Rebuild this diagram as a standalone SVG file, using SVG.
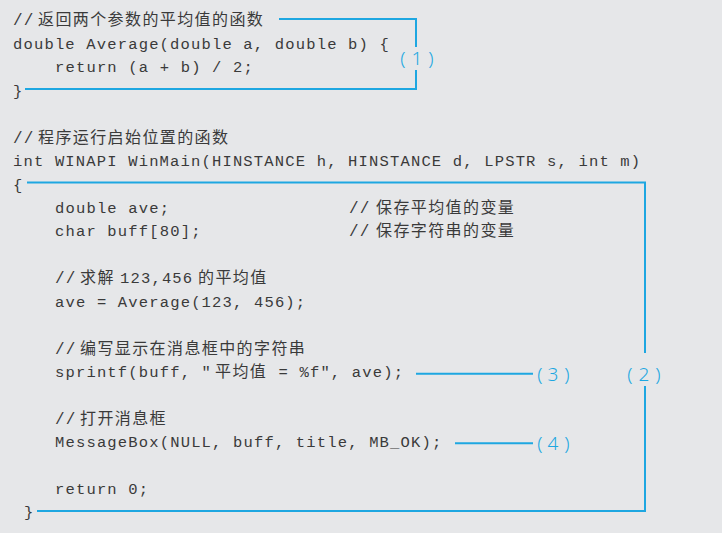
<svg xmlns="http://www.w3.org/2000/svg" width="722" height="533" viewBox="0 0 722 533">
<style>
.m{font-family:"Liberation Mono","DejaVu Sans Mono",monospace;font-size:15.5px;letter-spacing:1.17px;fill:#3a3a3a}
.c{font-family:"Noto Sans CJK SC","Noto Sans",sans-serif;font-size:16px;letter-spacing:1.4px;fill:#3a3a3a}
.s{font-family:"Liberation Mono","DejaVu Sans Mono",monospace;font-size:16px;letter-spacing:1.2px;fill:#3a3a3a}
.l{font-family:"Noto Sans","Liberation Sans",sans-serif;font-size:19px;font-weight:300;fill:#1ea7e1;text-anchor:middle}
.k{fill:none;stroke:#1ea7e1;stroke-width:2}
</style>
<rect width="722" height="533" fill="#e6e7e9"/>
<g id="code">
<text class="s" x="13" y="25">//</text><text class="c" x="38" y="25">返回两个参数的平均值的函数</text>
<text class="m" x="13" y="48.5">double Average(double a, double b) {</text>
<text class="m" x="55" y="72">return (a + b) / 2;</text>
<text class="m" x="13" y="95.5">}</text>
<text class="s" x="13" y="142.5">//</text><text class="c" x="38" y="142.5">程序运行启始位置的函数</text>
<text class="m" x="13" y="166">int WINAPI WinMain(HINSTANCE h, HINSTANCE d, LPSTR s, int m)</text>
<text class="m" x="13" y="189.5">{</text>
<text class="m" x="55" y="213">double ave;</text>
<text class="s" x="349" y="213">//</text><text class="c" x="376" y="213">保存平均值的变量</text>
<text class="m" x="55" y="236">char buff[80];</text>
<text class="s" x="349" y="236">//</text><text class="c" x="376" y="236">保存字符串的变量</text>
<text class="s" x="55" y="283">//</text><text class="c" x="80" y="283">求解</text><text class="m" x="120" y="283">123,456</text><text class="c" x="198" y="283">的平均值</text>
<text class="m" x="55" y="306.5">ave = Average(123, 456);</text>
<text class="s" x="55" y="353.5">//</text><text class="c" x="80" y="353.5">编写显示在消息框中的字符串</text>
<text class="m" x="55" y="377">sprintf(buff, "</text><text class="c" x="215" y="377">平均值</text><text class="m" x="278.5" y="377">= %f", ave);</text>
<text class="s" x="55" y="424">//</text><text class="c" x="80" y="424">打开消息框</text>
<text class="m" x="55" y="447">MessageBox(NULL, buff, title, MB_OK);</text>
<text class="m" x="55" y="494">return 0;</text>
<text class="m" x="24" y="517">}</text>
</g>
<g id="connectors">
<path class="k" d="M279,19H416V47M416,70V89H25"/>
<path class="k" d="M27,182.5H645V353M645,386V511H37"/>
<path class="k" d="M416,373.7H533"/>
<path class="k" d="M455,443.3H533"/>
</g>
<g id="label1"><text class="l" x="403" y="65">(</text><text class="l" x="417" y="65">1</text><text class="l" x="431" y="65">)</text></g>
<g id="label2"><text class="l" x="630" y="380.5">(</text><text class="l" x="644" y="380.5">2</text><text class="l" x="658" y="380.5">)</text></g>
<g id="label3"><text class="l" x="540" y="380.5">(</text><text class="l" x="553" y="380.5">3</text><text class="l" x="567" y="380.5">)</text></g>
<g id="label4"><text class="l" x="540" y="450">(</text><text class="l" x="553" y="450">4</text><text class="l" x="567" y="450">)</text></g>
</svg>
